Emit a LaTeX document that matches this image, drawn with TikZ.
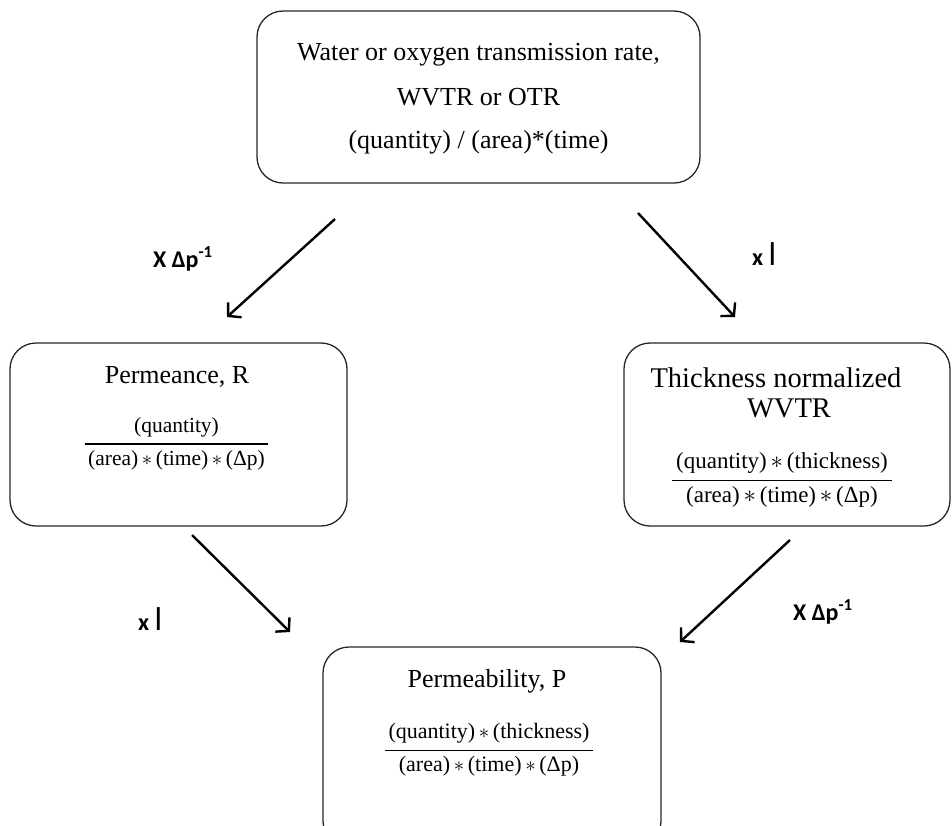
\documentclass[tikz,border=0pt]{standalone}
\usepackage{fontspec}
\usepackage{graphicx}
\setmainfont{Liberation Serif}
\newfontfamily\lblfont{Carlito}
\usetikzlibrary{arrows.meta}

% stacked fraction: numerator, rule, denominator
\newcommand{\ratio}[2]{{\setlength{\arrayrulewidth}{1.4pt}%
  \begin{tabular}{@{\,}c@{\,}}#1\\[4pt]\hline\rule{0pt}{21pt}#2\end{tabular}}}
\newcommand{\op}{\,$\ast$\,}
\newcommand{\thick}{{\mdseries\fontsize{33}{36}\selectfont l}}

\begin{document}
\begin{tikzpicture}[x=1pt,y=-1pt,
  box/.style={draw=black!85, line width=1.3pt, rounded corners=26pt,
    inner sep=0pt},
  title/.style={font=\fontsize{26}{30}\selectfont, inner sep=0pt, anchor=base},
  frac/.style={font=\fontsize{#1}{#1}\selectfont, inner sep=0pt},
  factor/.style={font=\lblfont\fontsize{24}{28}\selectfont\bfseries,
    inner sep=0pt, anchor=base west},
  step arrow/.style={line width=2.4pt, draw=black,
    -{Straight Barb[length=9pt,width=20pt,line width=2.4pt]}}]

\clip (0,0) rectangle (952,825);
\useasboundingbox (0,0) rectangle (952,825);

% boxes
\node[box, minimum width=443pt, minimum height=172pt] (rate) at (478.5,97) {};
\node[box, minimum width=337pt, minimum height=183pt] (permeance) at (178.5,434.5) {};
\node[box, minimum width=326pt, minimum height=183pt] (normal) at (787,434.5) {};
\node[box, minimum width=338pt, minimum height=200pt] (permeab) at (492,747) {};

% top box text
\node[title] (r1) at (478.5,60) {Water or oxygen transmission rate,};
\node[title] (r2) at (478.5,105) {WVTR or OTR};
\node[title] (r3) at (478.5,148) {(quantity) / (area)*(time)};

% permeance
\node[title] (p1) at (177,383) {Permeance, R};
\node[frac=21.5] (p2) at (176.5,445) {\ratio{(quantity)}{(area)\op(time)\op(Δp)}};

% thickness normalized WVTR
\node[title, font=\fontsize{28.5}{32}\selectfont] (n1) at (776,387) {Thickness normalized};
\node[title, font=\fontsize{28.5}{32}\selectfont] (n2) at (789,417) {WVTR};
\node[frac=23] (n3) at (782,481) {\ratio{(quantity)\op(thickness)}{(area)\op(time)\op(Δp)}};

% permeability
\node[title] (b1) at (487,687) {Permeability, P};
\node[frac=22] (b2) at (489,751) {\ratio{(quantity)\op(thickness)}{(area)\op(time)\op(Δp)}};

% conversion factors
\node[factor] (f1) at (153,267) {X Δp\textsuperscript{-1}};
\node[factor] (f2) at (752,265) {x \thick};
\node[factor] (f3) at (138,630) {x \thick};
\node[factor] (f4) at (793,620) {X Δp\textsuperscript{-1}};

% arrow end points
\coordinate (a1s) at (335,219); \coordinate (a1e) at (227,317);
\coordinate (a2s) at (638,213); \coordinate (a2e) at (735,317);
\coordinate (a3s) at (192,535); \coordinate (a3e) at (290,632);
\coordinate (a4s) at (790,540); \coordinate (a4e) at (680,642);

\draw[step arrow] (a1s) -- (a1e);
\draw[step arrow] (a2s) -- (a2e);
\draw[step arrow] (a3s) -- (a3e);
\draw[step arrow] (a4s) -- (a4e);
\end{tikzpicture}
\end{document}
